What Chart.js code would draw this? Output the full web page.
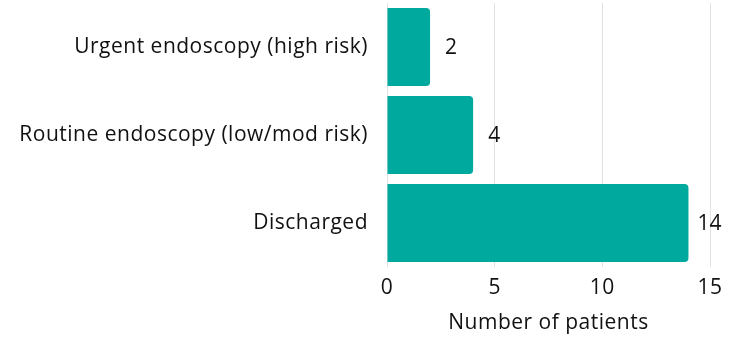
<!DOCTYPE html>
<html>
<head>
<meta charset="utf-8">
<script src="https://cdn.jsdelivr.net/npm/chart.js@4/dist/chart.umd.min.js"></script>
<style>
  html, body { margin: 0; padding: 0; background: #ffffff; }
  #wrap { width: 731px; height: 338px; }
</style>
</head>
<body>
<div id="wrap"><canvas id="chart" width="731" height="338"></canvas></div>
<script>
// Patient outcomes by triage category
const categories = [
  'Urgent endoscopy (high risk)',
  'Routine endoscopy (low/mod risk)',
  'Discharged'
];
const patientCounts = [2, 4, 14];
const xTicks = [0, 5, 10, 15];
const xAxisTitle = 'Number of patients';

const FONT = '"Open Sans", Lato, sans-serif';
const TEAL = '#00A99D';
const INK = '#111111';

// Slightly looser tracking for all canvas text
const tracking = {
  id: 'tracking',
  beforeDraw(chart) {
    chart.ctx.letterSpacing = '0.5px';
  }
};

// Writes each bar's count just past its end
const valueLabels = {
  id: 'valueLabels',
  afterDatasetsDraw(chart) {
    const ctx = chart.ctx;
    const meta = chart.getDatasetMeta(0);
    ctx.save();
    ctx.letterSpacing = '0px';
    ctx.font = '21px ' + FONT;
    ctx.fillStyle = INK;
    ctx.textAlign = 'center';
    ctx.textBaseline = 'middle';
    meta.data.forEach((bar, i) => {
      ctx.fillText(String(chart.data.datasets[0].data[i]), bar.x + 21, bar.y + 1);
    });
    ctx.restore();
  }
};

new Chart(document.getElementById('chart'), {
  type: 'bar',
  data: {
    labels: categories,
    datasets: [{
      data: patientCounts,
      backgroundColor: TEAL,
      borderSkipped: 'start',
      borderRadius: 4,
      barPercentage: 1,
      categoryPercentage: 78 / 88
    }]
  },
  options: {
    indexAxis: 'y',
    responsive: false,
    animation: false,
    devicePixelRatio: 1,
    layout: { padding: { top: 3, right: 21, bottom: 0, left: 0 } },
    plugins: {
      legend: { display: false },
      tooltip: { enabled: false }
    },
    scales: {
      x: {
        type: 'linear',
        min: 0,
        max: 15,
        afterBuildTicks(scale) {
          scale.ticks = xTicks.map(v => ({ value: v }));
        },
        grid: { color: '#e2e2e2', lineWidth: 1, drawTicks: false },
        border: { display: false },
        ticks: {
          padding: 8,
          color: INK,
          font: { family: FONT, size: 21 }
        },
        title: {
          display: true,
          text: xAxisTitle,
          color: INK,
          font: { family: FONT, size: 21 },
          padding: { top: 10, bottom: 2 }
        },
        afterFit(scale) {
          scale.height = 71;
          scale.paddingLeft = 0;
          scale.paddingRight = 0;
        }
      },
      y: {
        grid: { display: false, drawTicks: false },
        border: { display: false },
        ticks: {
          padding: 19,
          color: INK,
          font: { family: FONT, size: 21 }
        },
        afterFit(scale) {
          scale.width = 387;
          scale.paddingTop = 0;
          scale.paddingBottom = 0;
        }
      }
    }
  },
  plugins: [tracking, valueLabels]
});
</script>
</body>
</html>
